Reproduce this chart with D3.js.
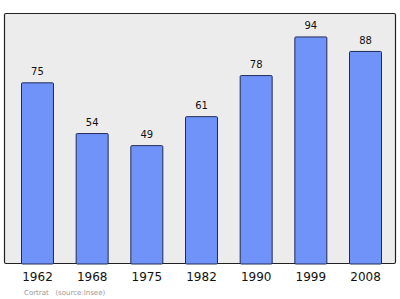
<!DOCTYPE html>
<html>
<head>
<meta charset="utf-8">
<script src="https://cdn.jsdelivr.net/npm/d3@7"></script>
<style>
  body { margin: 0; background: #fff; }
  text { font-family: "DejaVu Sans", sans-serif; }
</style>
</head>
<body>
<script>
// data
var years = ["1962", "1968", "1975", "1982", "1990", "1999", "2008"];
var population = [75, 54, 49, 61, 78, 94, 88];
var source = "Cortrat   (source:Insee)";

var width = 400, height = 299;
var frame = {left: 4.5, top: 13.5, right: 395.5, bottom: 263.5};

var svg = d3.select("body").append("svg")
    .attr("width", width)
    .attr("height", height);

// background panel
svg.append("rect")
    .attr("x", frame.left)
    .attr("y", frame.top)
    .attr("width", frame.right - frame.left)
    .attr("height", frame.bottom - frame.top)
    .attr("rx", 1.5)
    .style("fill", "#ececec")
    .style("stroke", "#222")
    .style("stroke-width", 1.2);

// scales
var x = d3.scaleBand()
    .domain(years)
    .range([21, 381])
    .paddingInner(0.415)
    .paddingOuter(0);

var y = d3.scaleLinear()
    .domain([0, 103.5])
    .range([frame.bottom, frame.top]);

// bars
svg.selectAll(".bar")
    .data(population)
    .enter().append("rect")
    .attr("class", "bar")
    .attr("x", function(d, i) { return x(years[i]) + 0.5; })
    .attr("y", function(d) { return y(d) + 0.5; })
    .attr("width", x.bandwidth())
    .attr("height", function(d) { return y(0) - y(d); })
    .attr("rx", 1)
    .style("fill", "#7093fa")
    .style("stroke", "#1f2a55")
    .style("stroke-width", 1);

// value labels
svg.selectAll(".val")
    .data(population)
    .enter().append("text")
    .attr("class", "val")
    .attr("x", function(d, i) { return x(years[i]) + x.bandwidth() / 2 + 0.5; })
    .attr("y", function(d) { return y(d) - 7; })
    .attr("text-anchor", "middle")
    .style("font-size", "10px")
    .style("fill", "#111")
    .text(function(d) { return d; });

// year axis (labels only)
var xAxis = svg.append("g")
    .attr("transform", "translate(0.5," + frame.bottom + ")")
    .call(d3.axisBottom(x).tickSize(0).tickPadding(9));
xAxis.select(".domain").remove();
xAxis.selectAll("text")
    .style("font-family", "DejaVu Sans, sans-serif")
    .style("font-size", "12px")
    .style("fill", "#111");

// source note
svg.append("text")
    .attr("x", 24)
    .attr("y", 295)
    .style("font-size", "7px")
    .style("fill", "#999")
    .style("white-space", "pre")
    .attr("xml:space", "preserve")
    .text(source);
</script>
</body>
</html>
